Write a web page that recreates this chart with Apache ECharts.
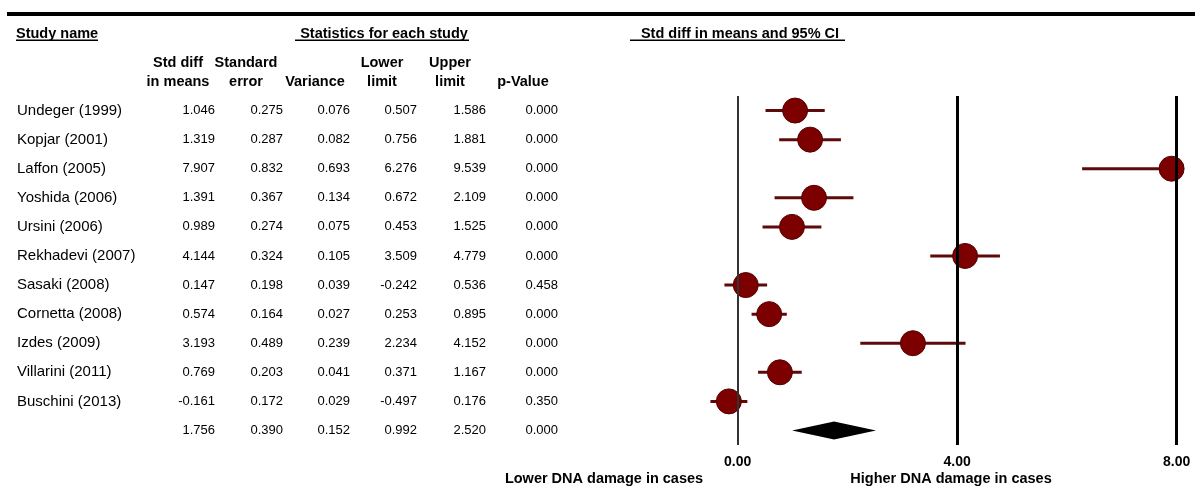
<!DOCTYPE html>
<html><head><meta charset="utf-8">
<script src="https://cdn.jsdelivr.net/npm/echarts@6/dist/echarts.min.js"></script>
<style>html,body{margin:0;padding:0;background:#fff}#c{width:1195px;height:490px}</style>
</head><body><div id="c"></div>
<script>
// ---- data ----
const studies = ['Undeger (1999)', 'Kopjar (2001)', 'Laffon (2005)', 'Yoshida (2006)', 'Ursini (2006)',
  'Rekhadevi (2007)', 'Sasaki (2008)', 'Cornetta (2008)', 'Izdes (2009)', 'Villarini (2011)', 'Buschini (2013)'];
const stdDiff  = [1.046, 1.319, 7.907, 1.391, 0.989, 4.144, 0.147, 0.574, 3.193, 0.769, -0.161];
const stdErr   = [0.275, 0.287, 0.832, 0.367, 0.274, 0.324, 0.198, 0.164, 0.489, 0.203, 0.172];
const variance = [0.076, 0.082, 0.693, 0.134, 0.075, 0.105, 0.039, 0.027, 0.239, 0.041, 0.029];
const lower    = [0.507, 0.756, 6.276, 0.672, 0.453, 3.509, -0.242, 0.253, 2.234, 0.371, -0.497];
const upper    = [1.586, 1.881, 9.539, 2.109, 1.525, 4.779, 0.536, 0.895, 4.152, 1.167, 0.176];
const pValue   = [0.000, 0.000, 0.000, 0.000, 0.000, 0.000, 0.458, 0.000, 0.000, 0.000, 0.350];
// summary: std diff, std error, variance, lower, upper, p
const summaryStats = [1.756, 0.390, 0.152, 0.992, 2.520, 0.000];
const xTicks = [0, 4, 8];
const headerTitles = ['Study name', 'Statistics for each study', 'Std diff in means and 95% CI'];
const colHeads1 = ['Std diff', 'Standard', '', 'Lower', 'Upper', ''];
const colHeads2 = ['in means', 'error', 'Variance', 'limit', 'limit', 'p-Value'];
const axisCaptions = ['Lower DNA damage in cases', 'Higher DNA damage in cases'];

// ---- layout ----
const FONT = "'Liberation Sans', Arial, sans-serif";
const rows = studies.concat(['']);
const nRows = rows.length;
const chart = echarts.init(document.getElementById('c'), null, {renderer: 'canvas'});

const ciData = studies.map((s, i) => [lower[i], upper[i], i]);
const ptData = studies.map((s, i) => [stdDiff[i], i]);
const diamondData = [[summaryStats[3], summaryStats[0], summaryStats[4], nRows - 1]];

chart.setOption({
  animation: false,
  backgroundColor: '#fff',
  grid: {left: 298.7, right: 18.3, top: 96, bottom: 45},
  xAxis: {
    type: 'value', min: -8, max: 8, interval: 4,
    axisLine: {show: false}, axisTick: {show: false}, splitLine: {show: false},
    axisLabel: {
      margin: 10, color: '#000', fontWeight: 'bold', fontSize: 14, fontFamily: FONT,
      formatter: v => (xTicks.indexOf(v) >= 0 ? v.toFixed(2) : '')
    }
  },
  yAxis: {
    type: 'category', data: rows, inverse: true,
    axisLine: {show: false}, axisTick: {show: false}, axisLabel: {show: false}, splitLine: {show: false}
  },
  series: [
    {
      type: 'custom', name: 'ci', data: ciData, z: 3,
      renderItem: function (params, api) {
        const cs = params.coordSys;
        const a = api.coord([api.value(0), api.value(2)]);
        const b = api.coord([api.value(1), api.value(2)]);
        const xr = Math.min(b[0], cs.x + cs.width);
        return {type: 'line', shape: {x1: a[0], y1: a[1], x2: xr, y2: b[1]},
          style: {stroke: '#5e0a0a', lineWidth: 3}};
      },
      markLine: {
        silent: true, symbol: 'none', label: {show: false},
        data: xTicks.map(t => ({xAxis: t,
          lineStyle: {type: 'solid', color: t === 0 ? '#333' : '#000', width: t === 0 ? 2 : 3}}))
      }
    },
    {
      type: 'scatter', name: 'est', data: ptData, clip: false, z: 4,
      symbol: 'circle', symbolSize: 25,
      itemStyle: {color: '#7d0000', borderColor: '#560000', borderWidth: 1, opacity: 1}
    },
    {
      type: 'custom', name: 'summary', data: diamondData, z: 4,
      renderItem: function (params, api) {
        const l = api.coord([api.value(0), api.value(3)]);
        const m = api.coord([api.value(1), api.value(3)]);
        const r = api.coord([api.value(2), api.value(3)]);
        const h = 9;
        return {type: 'polygon', shape: {points: [[l[0], l[1]], [m[0], m[1] - h], [r[0], r[1]], [m[0], m[1] + h]]},
          style: {fill: '#000'}};
      }
    }
  ]
});

// ---- table text placed on the rows of the y axis ----
const rowY = i => chart.convertToPixel({gridIndex: 0}, [0, i])[1];
const g = [];
const txt = (text, x, y, font, align, extra) => g.push(Object.assign({
  type: 'text', silent: true,
  style: {text: text, x: x, y: y, font: font, fill: '#000', align: align, verticalAlign: 'middle'}
}, extra || {}));

// top bar
g.push({type: 'rect', silent: true, shape: {x: 7, y: 12, width: 1188, height: 4}, style: {fill: '#000'}});

// section headers with underline
const hb = "bold 14.5px " + FONT;
txt(headerTitles[0], 16, 34, hb, 'left');
g.push({type: 'rect', silent: true, shape: {x: 16, y: 39.5, width: 82, height: 1.5}, style: {fill: '#000'}});
txt(headerTitles[1], 384, 34, hb, 'center');
g.push({type: 'rect', silent: true, shape: {x: 295, y: 39.5, width: 174, height: 1.5}, style: {fill: '#000'}});
txt(headerTitles[2], 740, 34, hb, 'center');
g.push({type: 'rect', silent: true, shape: {x: 630, y: 39.5, width: 215, height: 1.5}, style: {fill: '#000'}});

// column headers
const headCx = [178, 246, 315, 382, 450, 523];
colHeads1.forEach((t, j) => { if (t) txt(t, headCx[j], 63, hb, 'center'); });
colHeads2.forEach((t, j) => txt(t, headCx[j], 82, hb, 'center'));

// data rows
const colRight = [215, 283, 350, 417, 486, 558];
const nf = "13px " + FONT;
studies.forEach((s, i) => {
  const y = rowY(i);
  txt(s, 17, y, "15px " + FONT, 'left');
  [stdDiff[i], stdErr[i], variance[i], lower[i], upper[i], pValue[i]].forEach((v, j) =>
    txt(v.toFixed(3), colRight[j], y, nf, 'right'));
});
const ys = rowY(nRows - 1);
summaryStats.forEach((v, j) => txt(v.toFixed(3), colRight[j], ys, nf, 'right'));

// captions under the axis
const cb = "bold 14.5px " + FONT;
txt(axisCaptions[0], 604, 479, cb, 'center');
txt(axisCaptions[1], 951, 479, cb, 'center');

chart.setOption({graphic: {elements: g}});
</script>
</body></html>
